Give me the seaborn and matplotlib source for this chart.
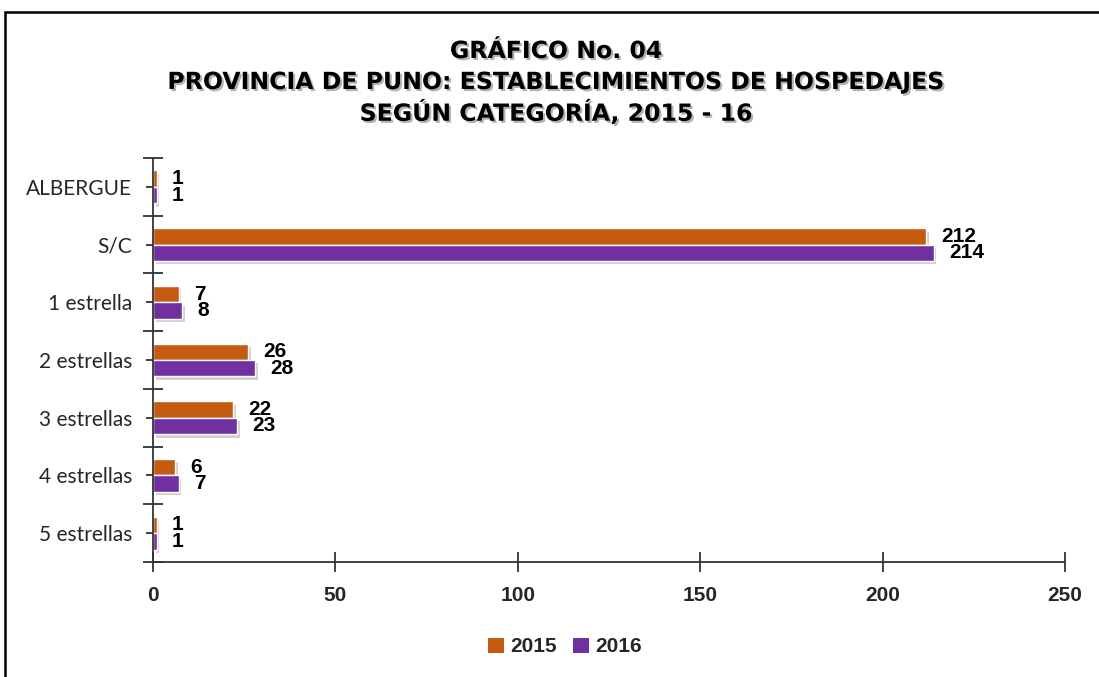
import numpy as np
import pandas as pd
import seaborn as sns
import matplotlib.pyplot as plt
import matplotlib.patheffects as pe
from matplotlib.lines import Line2D
from matplotlib.patches import Patch

# data
categorias = ['ALBERGUE', 'S/C', '1 estrella', '2 estrellas',
              '3 estrellas', '4 estrellas', '5 estrellas']
valores_2015 = [1, 212, 7, 26, 22, 6, 1]
valores_2016 = [1, 214, 8, 28, 23, 7, 1]
anios = ['2015', '2016']
colores = ['#C55A11', '#7030A0']
x_ticks = [0, 50, 100, 150, 200, 250]
titulo = ['GRÁFICO No. 04',
          'PROVINCIA DE PUNO: ESTABLECIMIENTOS DE HOSPEDAJES',
          'SEGÚN CATEGORÍA, 2015 - 16']

df = pd.DataFrame({
    'categoria': categorias * 2,
    'valor': valores_2015 + valores_2016,
    'anio': [anios[0]] * len(categorias) + [anios[1]] * len(categorias),
})

sns.set_style('white')
plt.rcParams['font.family'] = ['Lato', 'DejaVu Sans']
negrita = {'family': 'Liberation Sans', 'weight': 'bold', 'size': 15}

fig = plt.figure(figsize=(10.99, 6.77), dpi=100)
ax = fig.add_axes([153 / 1099, 1 - 562 / 677, (1065 - 153) / 1099, (562 - 158) / 677])

sns.barplot(data=df, y='categoria', x='valor', hue='anio', orient='h',
            palette=colores, width=0.57, saturation=1, legend=False, ax=ax)

# soft bar shadows
for p in ax.patches:
    p.set_path_effects([pe.SimplePatchShadow(offset=(2, -2.5), alpha=0.2), pe.Normal()])

for cont in ax.containers:
    ax.bar_label(cont, padding=11, color='black', fontproperties=negrita)

ax.set_xlim(0, 250)
ax.set_xticks(x_ticks)
ax.set_ylim(len(categorias) - 0.5, -0.5)
ax.set_yticks(np.arange(-0.5, len(categorias), 1), minor=True)
ax.set_xlabel('')
ax.set_ylabel('')

for s in ['top', 'right']:
    ax.spines[s].set_visible(False)
for s in ['left', 'bottom']:
    ax.spines[s].set_color('#333333')
    ax.spines[s].set_linewidth(1.3)

ax.tick_params(axis='x', direction='inout', length=14, width=1.3, color='#333333',
               pad=10, bottom=True)
ax.tick_params(axis='y', which='major', direction='out', length=5, width=1.3,
               color='#333333', pad=10, labelsize=15, left=True)
ax.tick_params(axis='y', which='minor', direction='inout', length=14, width=1.3,
               color='#333333', left=True)
for lbl in ax.get_xticklabels():
    lbl.set_fontproperties(negrita)

# legend at the bottom
handles = [Patch(facecolor=c, edgecolor='none') for c in colores]
fig.legend(handles, anios, loc='center', bbox_to_anchor=(565 / 1099, 1 - 647 / 677),
           ncol=2, frameon=False, handlelength=0.75, handleheight=0.75,
           handletextpad=0.3, columnspacing=0.8, prop=negrita)

# title lines with a light shadow
sombra = [pe.withSimplePatchShadow(offset=(1.5, -1.5), shadow_rgbFace='gray', alpha=0.6)]
for txt, y in zip(titulo, [51, 82, 112]):
    fig.text(556 / 1099, 1 - y / 677, txt, ha='center', va='center', fontsize=17,
             fontweight='bold', family='DejaVu Sans', color='black',
             path_effects=sombra)

# frame around the chart (cut at right and bottom)
fig.add_artist(Line2D([5 / 1099, 5 / 1099], [0, 1 - 12 / 677], color='black', lw=1.8,
                      transform=fig.transFigure))
fig.add_artist(Line2D([5 / 1099, 1], [1 - 12 / 677, 1 - 12 / 677], color='black', lw=1.8,
                      transform=fig.transFigure))

fig.savefig('out.png', dpi=100)
